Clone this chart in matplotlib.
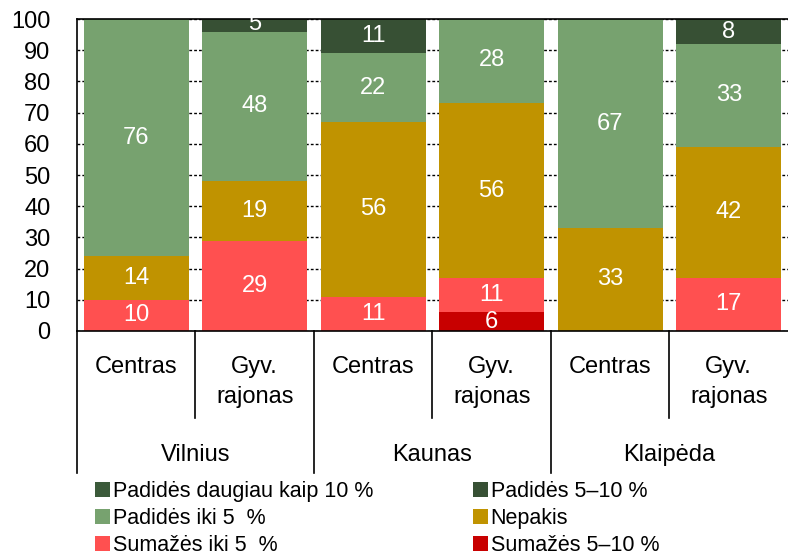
import numpy as np
import matplotlib.pyplot as plt
from matplotlib.patches import Patch
from matplotlib.transforms import blended_transform_factory

plt.rcParams['font.family'] = ['Liberation Sans', 'DejaVu Sans']

# bar order: Vilnius, Kaunas, Klaipeda x (Centras, Gyv. rajonas)
cities = ['Vilnius', 'Kaunas', 'Klaipėda']
areas = ['Centras', 'Gyv.\nrajonas']

# stacked from the bottom up
dec_5_10 = [0, 0, 0, 6, 0, 0]
dec_5 = [10, 29, 11, 11, 0, 17]
no_change = [14, 19, 56, 56, 33, 42]
inc_5 = [76, 48, 22, 28, 67, 33]
inc_5_10 = [0, 5, 11, 0, 0, 8]
inc_10 = [0, 0, 0, 0, 0, 0]

series = [
    ('Sumažės 5–10 %', dec_5_10, '#c80000'),
    ('Sumažės iki 5  %', dec_5, '#ff5050'),
    ('Nepakis', no_change, '#c09300'),
    ('Padidės iki 5  %', inc_5, '#77a26f'),
    ('Padidės 5–10 %', inc_5_10, '#375034'),
    ('Padidės daugiau kaip 10 %', inc_10, '#3b5a3a'),
]

FS = 17

fig = plt.figure(figsize=(7.88, 5.6), dpi=100)
ax = fig.add_axes([0.0977, 0.409, 0.9023, 0.557])

x = np.arange(6)
bottom = np.zeros(6)
for name, vals, col in series:
    vals = np.array(vals, dtype=float)
    ax.bar(x, vals, 0.89, bottom=bottom, color=col, zorder=2)
    for xi, b, v in zip(x, bottom, vals):
        if v > 0:
            yc = min(b + v / 2, 98.5)
            ax.text(xi, yc, f'{int(v)}', ha='center', va='center',
                    color='white', fontsize=FS, zorder=3)
    bottom += vals

ax.set_xlim(-0.5, 5.5)
ax.set_ylim(0, 100)
ax.set_yticks(np.arange(0, 101, 10))
ax.tick_params(axis='y', length=0, pad=19, labelsize=FS)
ax.set_xticks([])
ax.yaxis.grid(True, color='black', linestyle=(0, (2, 1.5)), linewidth=1.0, zorder=0)
ax.set_axisbelow(True)
for s in ['left', 'bottom', 'top']:
    ax.spines[s].set_linewidth(1.2)
ax.spines['right'].set_visible(False)

# two-level category axis
trans = blended_transform_factory(ax.transData, ax.transAxes)
for b in np.arange(-0.5, 5.5, 1.0):
    low = -0.455 if int(b + 0.5) % 2 == 0 else -0.279
    ax.plot([b, b], [0, low], color='black', lw=1.2, transform=trans, clip_on=False)
for i in range(6):
    ax.text(x[i], -0.163 if i % 2 else -0.115, areas[i % 2], transform=trans,
            ha='center', va='center', fontsize=FS, linespacing=1.5)
for j, c in enumerate(cities):
    ax.text(2 * j + 0.5, -0.397, c, transform=trans, ha='center', va='center',
            fontsize=FS)

# legend, filled column by column
order = [5, 3, 1, 4, 2, 0]
handles = [Patch(facecolor=series[k][2], label=series[k][0]) for k in order]
fig.legend(handles=handles, loc='upper left', bbox_to_anchor=(0.1206, 0.141),
           ncol=2, frameon=False, fontsize=15.5, handlelength=0.7, handleheight=0.7,
           handletextpad=0.14, columnspacing=4.6, labelspacing=0.28,
           borderaxespad=0, borderpad=0)

fig.savefig('out.png', dpi=100)
